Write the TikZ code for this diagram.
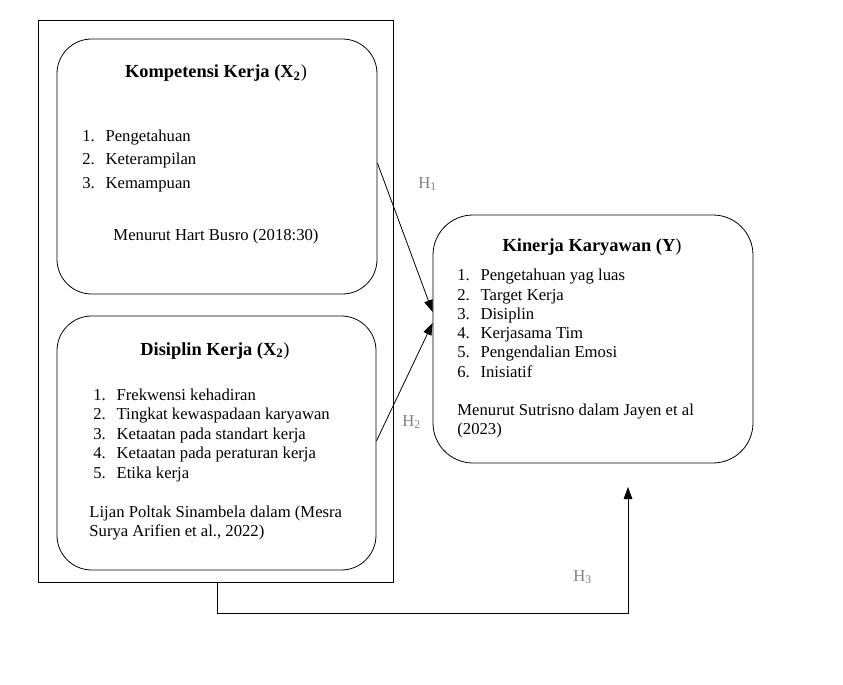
\documentclass[tikz,border=0pt]{standalone}
\usepackage{fontspec}
\setmainfont{Liberation Serif}
\usetikzlibrary{fit,arrows.meta}
\begin{document}
\begin{tikzpicture}[x=0.75pt,y=-0.75pt,
  line width=0.6pt,
  rbox/.style={draw,inner sep=0pt,rounded corners=26pt},
  frame/.style={draw,inner sep=0pt},
  txt/.style={anchor=base west,inner sep=0pt,font=\fontsize{12.5}{14}\selectfont},
  ttl/.style={anchor=base,inner sep=0pt,font=\fontsize{13.8}{16}\selectfont\bfseries},
  hlab/.style={anchor=base west,inner sep=0pt,text=gray,font=\fontsize{12.5}{14}\selectfont},
  arr/.style={-{Triangle[length=9pt,width=6.5pt]}}]
\useasboundingbox (0,0) rectangle (843,685);
% frame
\node[frame,fit={(38,20) (393,582)}] (frame) {};
% boxes
\node[rbox,fit={(57,39) (377,294)}] (k) {};
\node[rbox,fit={(57,316) (376,570)}] (d) {};
\node[rbox,rounded corners=30pt,fit={(433,215) (753,463)}] (y) {};
% box 1 text
\node[ttl] (kt) at (216,78) {Kompetensi Kerja (X\textsubscript{2}\mdseries)};
\node[txt] (k1) at (82,142) {1.\hspace{8pt}Pengetahuan};
\node[txt] (k2) at (82,165) {2.\hspace{8pt}Keterampilan};
\node[txt] (k3) at (82,188) {3.\hspace{8pt}Kemampuan};
\node[txt,anchor=base] (kc) at (216,240) {Menurut Hart Busro (2018:30)};
% box 2 text
\node[ttl] (dt) at (215,355) {Disiplin Kerja (X\textsubscript{2}\mdseries)};
\node[txt] (d1) at (93,400) {1.\hspace{8pt}Frekwensi kehadiran};
\node[txt] (d2) at (93,419) {2.\hspace{8pt}Tingkat kewaspadaan karyawan};
\node[txt] (d3) at (93,439) {3.\hspace{8pt}Ketaatan pada standart kerja};
\node[txt] (d4) at (93,458) {4.\hspace{8pt}Ketaatan pada peraturan kerja};
\node[txt] (d5) at (93,478) {5.\hspace{8pt}Etika kerja};
\node[txt] (dc1) at (89,517) {Lijan Poltak Sinambela dalam (Mesra};
\node[txt] (dc2) at (89,536) {Surya Arifien et al., 2022)};
% box 3 text
\node[ttl] (yt) at (592,251) {Kinerja Karyawan (Y\mdseries)};
\node[txt] (y1) at (457,280) {1.\hspace{8pt}Pengetahuan yag luas};
\node[txt] (y2) at (457,300) {2.\hspace{8pt}Target Kerja};
\node[txt] (y3) at (457,319) {3.\hspace{8pt}Disiplin};
\node[txt] (y4) at (457,338) {4.\hspace{8pt}Kerjasama Tim};
\node[txt] (y5) at (457,357) {5.\hspace{8pt}Pengendalian Emosi};
\node[txt] (y6) at (457,377) {6.\hspace{8pt}Inisiatif};
\node[txt] (yc1) at (457,415) {Menurut Sutrisno dalam Jayen et al};
\node[txt] (yc2) at (457,434) {(2023)};
% hypothesis labels
\node[hlab] (h1) at (418,188) {H\textsubscript{1}};
\node[hlab] (h2) at (402,426) {H\textsubscript{2}};
\node[hlab] (h3) at (573,581) {H\textsubscript{3}};
% connectors
\coordinate (ks) at (k.east |- 0,163);
\coordinate (ds) at (d.east |- 0,441);
\coordinate (ye1) at (y.west |- 0,312);
\coordinate (ye2) at (y.west |- 0,323);
\coordinate (fs) at (217,582);
\coordinate (fb) at (217,613);
\coordinate (yb) at (628,613);
\coordinate (ye3) at (628,487);
\draw[arr] (ks) -- (ye1);
\draw[arr] (ds) -- (ye2);
\draw[arr] (fs) -- (fb) -- (yb) -- (ye3);
\end{tikzpicture}
\end{document}
